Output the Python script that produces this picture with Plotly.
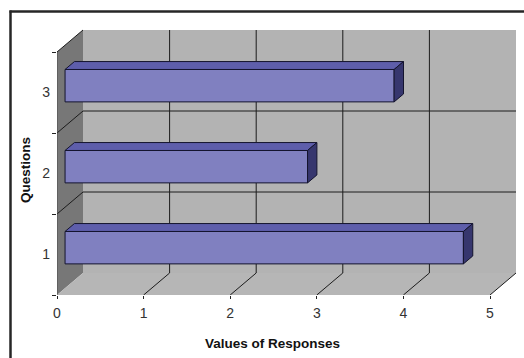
import plotly.graph_objects as go

# Chart data
questions = ["1", "2", "3"]
responses = [4.6, 2.8, 3.8]
value_ticks = [0, 1, 2, 3, 4, 5]

# Figure geometry (pixels)
W, H = 524, 358
ML, MR, MT, MB = 57, 4, 29, 63
PX_PER_X = 86.6
PX_PER_Y = 81.0
PLOT_W = W - ML - MR
PLOT_H = H - MT - MB

# Oblique depth offset of the walls, in data units
DX = 26 / PX_PER_X
DY = 22 / PX_PER_Y
BAR_D0, BAR_D1 = 0.31, 0.67   # depth span of each bar (fraction of wall depth)
BAR_H = 0.4                   # bar thickness in category units
X_MAX = max(value_ticks)
N_CAT = len(questions)


def proj(x, y, d):
    return x + d * DX, y + d * DY


def poly(points):
    xs, ys = [], []
    for p in points:
        px, py = proj(*p)
        xs.append(px)
        ys.append(py)
    xs.append(xs[0])
    ys.append(ys[0])
    return xs, ys


fig = go.Figure()


def add_face(points, fill, line_color=None, line_width=0):
    xs, ys = poly(points)
    fig.add_trace(go.Scatter(
        x=xs, y=ys, mode="lines", fill="toself", fillcolor=fill,
        line=dict(color=line_color or fill, width=line_width),
        hoverinfo="skip", showlegend=False))


def add_lines(segments, color="#1c1c1c", width=1):
    xs, ys = [], []
    for a, b in segments:
        for p in (a, b):
            px, py = proj(*p)
            xs.append(px)
            ys.append(py)
        xs.append(None)
        ys.append(None)
    fig.add_trace(go.Scatter(
        x=xs, y=ys, mode="lines", line=dict(color=color, width=width),
        hoverinfo="skip", showlegend=False))


# Walls and floor
add_face([(0, 0, 1), (X_MAX, 0, 1), (X_MAX, N_CAT, 1), (0, N_CAT, 1)], "#b3b3b3")
add_face([(0, 0, 0), (0, 0, 1), (0, N_CAT, 1), (0, N_CAT, 0)], "#777777")
add_face([(0, 0, 0), (X_MAX, 0, 0), (X_MAX, 0, 1), (0, 0, 1)], "#b6b6b6")

# Gridlines on the back wall, the floor and the side wall
segs = []
for v in value_ticks[1:-1]:
    segs.append(((v, 0, 1), (v, N_CAT, 1)))
for v in value_ticks[1:]:
    segs.append(((v, 0, 0), (v, 0, 1)))
for k in range(1, N_CAT):
    segs.append(((0, k, 1), (X_MAX, k, 1)))
for k in range(1, N_CAT + 1):
    segs.append(((0, k, 0), (0, k, 1)))
add_lines(segs)
add_lines([((0, 0, 0), (0, N_CAT, 0))], color="#4a4a4a", width=1)

# 3D bars: front, top and end faces
EDGE = "#14142e"
for i, v in enumerate(responses):
    c = i + 0.5
    y0, y1 = c - BAR_H / 2, c + BAR_H / 2
    add_face([(0, y0, BAR_D0), (v, y0, BAR_D0), (v, y1, BAR_D0), (0, y1, BAR_D0)],
             "#8080c0", EDGE, 1)
    add_face([(0, y1, BAR_D0), (v, y1, BAR_D0), (v, y1, BAR_D1), (0, y1, BAR_D1)],
             "#5e5eab", EDGE, 1)
    add_face([(v, y0, BAR_D0), (v, y0, BAR_D1), (v, y1, BAR_D1), (v, y1, BAR_D0)],
             "#36366e", EDGE, 1)


def paper_x(px):
    return (px - ML) / PLOT_W


def paper_y(py):
    return (H - MB - py) / PLOT_H


tick_font = dict(family="Liberation Sans, Arial, sans-serif", size=14, color="#333333")
title_font = dict(family="Liberation Sans, Arial, sans-serif", size=13.5, color="#111111")

fig.update_layout(
    width=W, height=H,
    margin=dict(l=ML, r=MR, t=MT, b=MB),
    paper_bgcolor="white", plot_bgcolor="rgba(0,0,0,0)",
    xaxis=dict(
        range=[0, PLOT_W / PX_PER_X], tickvals=value_ticks,
        ticktext=[str(t) for t in value_ticks],
        ticks="outside", ticklen=3, tickcolor="#222222", tickwidth=1,
        showgrid=False, zeroline=False, showline=False,
        tickfont=tick_font, ticklabelstandoff=2, fixedrange=True),
    yaxis=dict(
        range=[0, PLOT_H / PX_PER_Y],
        tickvals=[i + 0.5 for i in range(N_CAT)], ticktext=questions,
        ticks="", showgrid=False, zeroline=False, showline=False,
        tickfont=tick_font, ticklabelstandoff=6, fixedrange=True,
        minor=dict(tickvals=list(range(N_CAT + 1)), ticks="outside",
                   ticklen=4, tickcolor="#222222", tickwidth=1, showgrid=False)),
    annotations=[
        dict(text="<b>Values of Responses</b>", x=paper_x(272), y=paper_y(343),
             xref="paper", yref="paper", showarrow=False, font=title_font,
             xanchor="center", yanchor="middle"),
        dict(text="<b>Questions</b>", x=paper_x(25), y=paper_y(170),
             xref="paper", yref="paper", showarrow=False, font=title_font,
             textangle=-90, xanchor="center", yanchor="middle"),
    ],
    shapes=[
        dict(type="line", xref="paper", yref="paper",
             x0=paper_x(10.5), x1=paper_x(10.5), y0=paper_y(10.5), y1=paper_y(H + 5),
             line=dict(color="#262626", width=2.5)),
        dict(type="line", xref="paper", yref="paper",
             x0=paper_x(9.5), x1=paper_x(W + 5), y0=paper_y(11.5), y1=paper_y(11.5),
             line=dict(color="#262626", width=2.5)),
    ],
)

fig.write_html("out.html")
